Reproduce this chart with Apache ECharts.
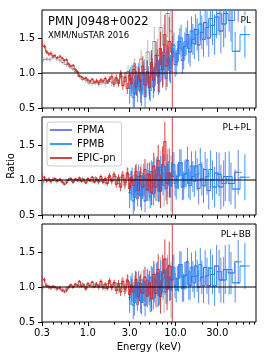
<!DOCTYPE html>
<html><head><meta charset="utf-8">
<script src="https://cdn.jsdelivr.net/npm/echarts@6/dist/echarts.min.js"></script>
<style>html,body{margin:0;padding:0;background:#fff}#c{width:266px;height:358px}</style>
</head><body><div id="c"></div><script>
// ---------- data ----------
const PN_E = [0.30,0.32,0.34,0.36,0.38,0.40,0.42,0.45,0.48,0.51,0.54,0.57,0.60,0.64,0.68,0.72,0.76,0.80,0.85,0.90,0.95,1.00,1.06,1.12,1.19,1.26,1.33,1.41,1.49,1.58,1.67,1.77,1.88,1.99,2.11,2.24,2.37,2.51,2.66,2.82,2.99,3.17,3.36,3.56,3.77,4.00,4.24,4.49,4.76,5.04,5.34,5.66,6.00,6.36,6.74,7.14,7.57,8.02,8.50,9.20];
const PN_PL = [1.42,1.38,1.30,1.27,1.28,1.24,1.25,1.22,1.24,1.21,1.18,1.19,1.13,1.10,1.11,1.05,1.02,0.96,0.94,0.92,0.93,0.90,0.88,0.91,0.87,0.89,0.86,0.90,0.88,0.92,0.87,0.91,0.95,0.84,0.93,0.86,0.98,0.82,0.94,0.78,0.97,0.85,1.05,0.80,0.96,0.88,1.10,0.83,1.02,0.79,1.15,0.90,1.25,0.95,1.35,1.05,1.55,1.10,1.45,1.30];
const PN_PLPL = [1.05,1.03,0.99,1.01,0.98,1.00,1.02,0.99,1.01,0.97,0.94,0.96,1.00,1.02,0.97,1.01,0.99,1.03,0.98,1.00,0.96,1.02,0.99,1.04,0.97,1.01,0.98,1.05,0.97,1.02,0.95,1.06,0.99,1.08,0.94,1.03,0.90,1.07,0.96,1.10,0.88,1.04,0.92,1.12,0.85,1.06,0.90,1.15,0.86,1.08,0.82,1.20,0.90,1.28,0.84,1.22,1.55,0.95,1.10,1.05];
const PN_PLBB = [1.12,1.10,1.02,1.00,0.99,1.01,1.00,0.98,0.99,0.95,0.93,0.95,0.99,1.03,1.00,1.04,1.02,1.08,1.01,1.03,0.97,1.05,1.02,1.07,1.00,1.04,1.01,1.08,0.99,1.04,0.98,1.09,1.00,1.06,0.95,1.05,0.93,1.08,0.97,1.10,0.89,1.03,0.93,1.11,0.86,1.05,0.91,1.14,0.87,1.06,0.83,1.18,0.91,1.25,0.86,1.20,1.40,0.97,1.30,1.10];
const PN_ERR = [0.04,0.03,0.03,0.03,0.03,0.02,0.02,0.02,0.02,0.02,0.02,0.02,0.02,0.02,0.02,0.02,0.02,0.02,0.02,0.02,0.02,0.02,0.02,0.02,0.02,0.03,0.03,0.03,0.03,0.03,0.03,0.04,0.04,0.04,0.05,0.05,0.06,0.06,0.07,0.08,0.08,0.09,0.10,0.11,0.12,0.13,0.14,0.15,0.16,0.17,0.18,0.19,0.20,0.22,0.24,0.26,0.28,0.30,0.35,1.20];

const MOS_E = [0.31,0.34,0.37,0.40,0.44,0.48,0.52,0.57,0.62,0.67,0.73,0.80,0.87,0.95,1.03,1.12,1.22,1.33,1.45,1.58,1.72,1.87,2.04,2.22,2.42,2.64,2.88,3.14,3.42,3.73,4.06,4.43,4.83,5.26,5.73,6.25,6.81,7.42,8.09,8.90];
const MOS_PL = [1.19,1.20,1.19,1.22,1.20,1.18,1.15,1.12,1.09,1.06,1.02,0.95,0.91,0.89,0.86,0.85,0.86,0.84,0.87,0.85,0.88,0.86,0.90,0.85,0.95,0.88,1.02,0.92,1.10,0.98,1.20,1.05,1.30,1.12,1.45,1.25,1.65,1.40,1.85,1.60];
const MOS_PLPL = [0.97,1.00,0.99,1.01,0.98,1.00,0.97,0.99,1.02,0.98,1.01,0.99,1.02,0.97,1.00,0.98,1.03,0.97,1.01,0.96,1.03,0.98,1.05,0.95,1.04,0.93,1.08,0.92,1.06,0.90,1.10,0.92,1.08,0.88,1.12,0.94,1.15,0.92,1.10,0.95];
const MOS_PLBB = [1.00,1.01,0.99,1.00,0.97,0.98,0.96,0.98,1.01,1.00,1.03,1.01,1.04,0.99,1.02,1.00,1.04,0.99,1.03,0.98,1.05,0.99,1.06,0.96,1.05,0.94,1.08,0.93,1.06,0.91,1.10,0.93,1.09,0.89,1.12,0.95,1.16,0.93,1.12,0.96];
const MOS_ERR = [0.04,0.03,0.03,0.03,0.03,0.03,0.03,0.03,0.03,0.03,0.03,0.03,0.03,0.03,0.03,0.03,0.03,0.04,0.04,0.04,0.04,0.05,0.05,0.06,0.07,0.08,0.09,0.10,0.11,0.12,0.13,0.15,0.17,0.19,0.21,0.24,0.27,0.30,0.34,0.40];

const FPMA_E = [3.0,3.2,3.4,3.6,3.8,4.0,4.25,4.5,4.75,5.0,5.3,5.6,5.9,6.2,6.6,7.0,7.4,7.8,8.3,8.8,9.3,9.9,10.5,11.2,12.0,12.8,13.7,14.7,15.8,17.0,18.4,20.0,21.8,24.0,26.5,29.5,33.0,37.0,43.0,52.0];
const FPMA_PL = [0.78,0.92,0.70,0.85,0.97,0.74,0.90,0.66,1.02,0.84,1.10,0.80,0.98,1.18,0.88,1.05,1.25,0.92,1.20,1.02,1.35,1.12,1.28,1.45,1.18,1.38,1.55,1.30,1.48,1.62,1.40,1.58,1.72,1.50,1.68,1.80,1.60,1.85,1.75,2.05];
const FPMA_PLPL = [0.82,0.98,0.75,0.90,1.05,0.78,0.94,0.70,1.08,0.86,1.12,0.80,0.97,1.18,0.85,1.02,1.20,0.88,1.10,0.92,1.22,0.95,1.05,1.25,0.90,1.08,1.28,0.92,1.05,1.20,0.88,1.02,1.15,0.85,1.00,1.10,0.90,1.05,0.95,1.11];
const FPMA_PLBB = [0.85,1.00,0.78,0.92,1.06,0.80,0.96,0.74,1.10,0.90,1.14,0.84,1.00,1.20,0.90,1.06,1.24,0.93,1.15,0.98,1.28,1.02,1.12,1.32,0.98,1.16,1.36,1.02,1.15,1.30,1.00,1.14,1.28,1.02,1.18,1.30,1.10,1.25,1.20,1.36];
const FPMA_ERR = [0.22,0.20,0.19,0.18,0.17,0.17,0.16,0.16,0.16,0.16,0.16,0.16,0.16,0.16,0.16,0.16,0.16,0.17,0.17,0.17,0.18,0.18,0.18,0.19,0.19,0.20,0.20,0.21,0.22,0.22,0.23,0.24,0.25,0.27,0.28,0.30,0.32,0.35,0.30,0.32];

const FPMB_E = [3.1,3.3,3.5,3.7,3.9,4.1,4.35,4.6,4.9,5.15,5.45,5.75,6.05,6.4,6.8,7.2,7.6,8.05,8.55,9.05,9.6,10.2,10.85,11.6,12.4,13.25,14.2,15.25,16.4,17.7,19.2,20.9,22.9,25.2,28.0,31.5,35.5,41.0,48.0,62.0];
const FPMB_PL = [0.88,0.65,0.95,0.76,0.90,0.70,1.00,0.82,0.94,0.75,1.05,0.90,1.12,0.85,1.20,0.98,1.10,1.30,1.05,1.25,1.40,1.15,1.35,1.50,1.25,1.45,1.35,1.60,1.42,1.55,1.70,1.48,1.65,1.78,1.55,1.85,1.70,1.95,1.31,1.55];
const FPMB_PLPL = [0.92,0.70,1.02,0.80,0.95,0.74,1.06,0.86,0.98,0.76,1.10,0.90,1.15,0.84,1.18,0.94,1.02,1.20,0.92,1.08,1.22,0.90,1.06,1.25,0.92,1.10,0.95,1.20,0.98,1.08,1.22,0.92,1.05,1.15,0.90,1.08,0.95,1.05,0.87,1.04];
const FPMB_PLBB = [0.95,0.74,1.04,0.84,0.98,0.78,1.08,0.90,1.02,0.80,1.12,0.94,1.18,0.88,1.22,0.98,1.06,1.25,0.97,1.12,1.28,0.96,1.12,1.32,0.99,1.17,1.03,1.28,1.06,1.16,1.32,1.02,1.16,1.27,1.02,1.22,1.10,1.25,1.06,1.30];
const FPMB_ERR = [0.21,0.20,0.19,0.18,0.18,0.17,0.17,0.16,0.16,0.16,0.16,0.16,0.16,0.16,0.16,0.16,0.17,0.17,0.17,0.18,0.18,0.18,0.19,0.19,0.20,0.20,0.21,0.21,0.22,0.23,0.24,0.25,0.26,0.27,0.29,0.31,0.33,0.36,0.28,0.33];

const PANEL_LABELS = ['PL', 'PL+PL', 'PL+BB'];
const X_TICKS = [0.3, 1, 3, 10, 30];
const X_MINOR = [0.4,0.5,0.6,0.7,0.8,0.9,2,4,5,6,7,8,9,20,40,50,60,70,80];
const Y_TICKS = [0.5, 1.0, 1.5];
const X_RANGE = [0.3, 83];
const Y_RANGE = [0.5, 1.9];

// ---------- build ----------
const C_MOS = 'rgba(115,115,115,0.5)';
const C_FPMA = 'rgba(65,105,225,0.8)';
const C_FPMB = 'rgba(30,144,255,0.9)';
const C_PN = 'rgba(214,39,40,0.88)';
const lg = Math.log10;
const lx0 = lg(X_RANGE[0]), lx1 = lg(X_RANGE[1]);

const panels = [
  {mos: MOS_PL, pn: PN_PL, a: FPMA_PL, b: FPMB_PL},
  {mos: MOS_PLPL, pn: PN_PLPL, a: FPMA_PLPL, b: FPMB_PLPL},
  {mos: MOS_PLBB, pn: PN_PLBB, a: FPMA_PLBB, b: FPMB_PLBB}
];
const TOPS = [10, 117, 224];

function errData(E, V, ERR) {
  const lx = E.map(lg);
  return lx.map((x, i) => {
    const lo = i > 0 ? (lx[i-1] + x) / 2 : x - (lx[i+1] - x) / 2;
    const hi = i < lx.length - 1 ? (lx[i+1] + x) / 2 : x + (x - lx[i-1]) / 2;
    return [x, V[i], ERR[i], lo, hi];
  });
}
function renderErr(params, api) {
  const x = api.value(0), y = api.value(1), e = api.value(2), lo = api.value(3), hi = api.value(4);
  const a = api.coord([x, y - e]), b = api.coord([x, y + e]);
  const l = api.coord([lo, y]), r = api.coord([hi, y]);
  const st = {stroke: api.visual('color'), lineWidth: 1};
  return {type: 'group', children: [
    {type: 'line', shape: {x1: a[0], y1: a[1], x2: b[0], y2: b[1]}, style: st},
    {type: 'line', shape: {x1: l[0], y1: l[1], x2: r[0], y2: r[1]}, style: st}
  ]};
}

const grid = [], xAxis = [], yAxis = [], series = [];
const tickStyle = {color: '#000', width: 1};
const noLine = {show: false, onZero: false};
panels.forEach((p, i) => {
  grid.push({left: 42, width: 214, top: TOPS[i], height: 98, show: true, borderColor: '#000', borderWidth: 1,
    backgroundColor: 'transparent', containLabel: false, outerBoundsMode: 'none'});
  xAxis.push({
    type: 'value', gridIndex: i, min: lx0, max: lx1, position: 'bottom',
    axisLine: noLine, splitLine: {show: false},
    axisTick: {show: true, customValues: X_TICKS.map(lg), length: 4, lineStyle: tickStyle},
    axisLabel: {show: i === 2, customValues: X_TICKS.map(lg), formatter: v => Math.pow(10, v).toFixed(1), fontSize: 10, color: '#000', margin: 6},
    name: i === 2 ? 'Energy (keV)' : '', nameLocation: 'middle', nameGap: 20, nameMoveOverlap: false,
    nameTextStyle: {fontSize: 10, color: '#000'}
  });
  xAxis.push({
    type: 'value', gridIndex: i, min: lx0, max: lx1, position: 'bottom',
    axisLine: noLine, splitLine: {show: false}, axisLabel: {show: false},
    axisTick: {show: true, customValues: X_MINOR.map(lg), length: 2.5, lineStyle: tickStyle}
  });
  yAxis.push({
    type: 'value', gridIndex: i, min: Y_RANGE[0], max: Y_RANGE[1], position: 'left',
    axisLine: noLine, splitLine: {show: false},
    axisTick: {show: true, customValues: Y_TICKS, length: 4, lineStyle: tickStyle},
    axisLabel: {customValues: Y_TICKS, formatter: v => v.toFixed(1), fontSize: 10, color: '#000', margin: 7},
    name: i === 1 ? 'Ratio' : '', nameLocation: 'middle', nameGap: 26, nameRotate: 90, nameMoveOverlap: false,
    nameTextStyle: {fontSize: 10, color: '#000'}
  });
  const xi = 2 * i;
  const sets = [
    {name: 'MOS', E: MOS_E, V: p.mos, ERR: MOS_ERR, c: C_MOS},
    {name: 'FPMA', E: FPMA_E, V: p.a, ERR: FPMA_ERR, c: C_FPMA},
    {name: 'FPMB', E: FPMB_E, V: p.b, ERR: FPMB_ERR, c: C_FPMB},
    {name: 'EPIC-pn', E: PN_E, V: p.pn, ERR: PN_ERR, c: C_PN}
  ];
  sets.forEach(s => {
    series.push({
      type: 'line', name: s.name, xAxisIndex: xi, yAxisIndex: i, step: 'middle',
      symbol: 'none', data: s.E.map((e, k) => [lg(e), s.V[k]]),
      lineStyle: {color: s.c, width: 1}, itemStyle: {color: s.c}, clip: true, silent: true
    });
    series.push({
      type: 'custom', name: s.name + ' err', xAxisIndex: xi, yAxisIndex: i,
      data: errData(s.E, s.V, s.ERR), renderItem: renderErr,
      encode: {x: 0, y: 1}, itemStyle: {color: s.c}, clip: true, silent: true
    });
  });
  series.push({
    type: 'line', name: 'unity', xAxisIndex: xi, yAxisIndex: i, symbol: 'none',
    data: [[lx0, 1], [lx1, 1]], lineStyle: {color: '#000', width: 1}, z: 5, silent: true
  });
});

const titleFont = {fontFamily: 'DejaVu Sans', color: '#000', fontWeight: 'normal'};
const title = [
  {text: 'PMN J0948+0022', subtext: 'XMM/NuSTAR 2016', left: 48, top: 16, padding: 0, itemGap: 3,
   textStyle: Object.assign({fontSize: 11.5}, titleFont), subtextStyle: Object.assign({fontSize: 8.5}, titleFont)}
];
PANEL_LABELS.forEach((t, i) => {
  title.push({text: t, right: 14, top: TOPS[i] + 5, padding: [1, 1], backgroundColor: 'rgba(255,255,255,0.8)',
    textStyle: Object.assign({fontSize: 9}, titleFont)});
});

const chart = echarts.init(document.getElementById('c'), null, {renderer: 'canvas'});
chart.setOption({
  animation: false,
  backgroundColor: '#fff',
  textStyle: {fontFamily: 'DejaVu Sans'},
  title,
  legend: {
    data: ['FPMA', 'FPMB', 'EPIC-pn'], orient: 'vertical', left: 47, top: 122,
    icon: 'rect', itemWidth: 22, itemHeight: 2, itemGap: 4, itemTextGap: 6,
    padding: [3, 6, 3, 3], borderColor: '#ccc', borderWidth: 1, borderRadius: 3,
    backgroundColor: 'rgba(255,255,255,0.8)', selectedMode: false,
    textStyle: {fontSize: 10, color: '#000', fontFamily: 'DejaVu Sans'}
  },
  grid, xAxis, yAxis, series
});
</script></body></html>
